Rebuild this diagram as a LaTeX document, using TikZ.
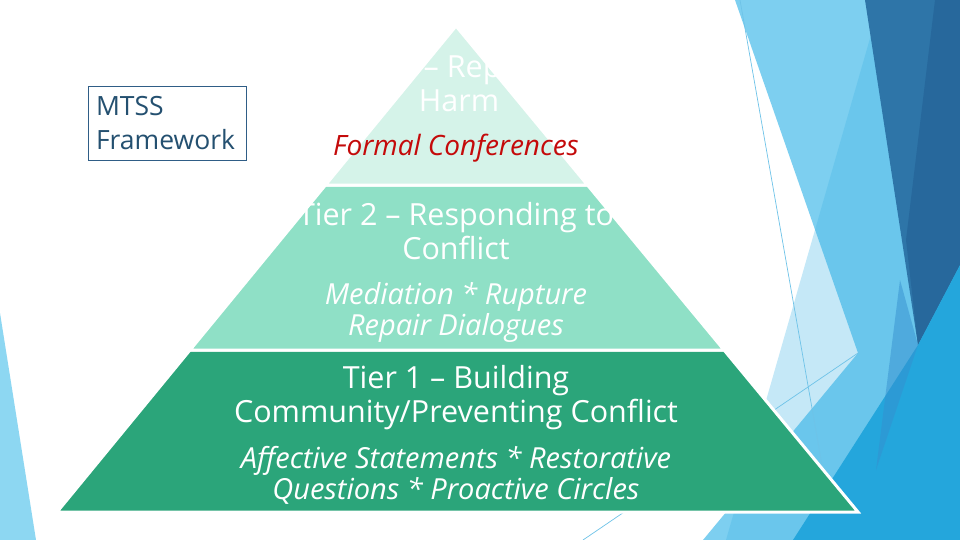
\documentclass[tikz,border=0pt]{standalone}
\usepackage{fontspec}
\setmainfont{Open Sans}
\definecolor{tierthree}{RGB}{213,243,233}
\definecolor{tiertwo}{RGB}{143,224,198}
\definecolor{tierone}{RGB}{43,165,122}
\definecolor{redtxt}{RGB}{196,10,10}
\definecolor{navytxt}{RGB}{36,80,112}
\definecolor{boxline}{RGB}{47,93,134}
\definecolor{lightblue}{RGB}{125,207,240}
\definecolor{paleblue}{RGB}{63,180,230}
\definecolor{darkblue}{RGB}{46,117,168}
\definecolor{darkerblue}{RGB}{39,104,156}
\definecolor{brightblue}{RGB}{36,166,220}
\definecolor{midblue}{RGB}{53,144,207}
\definecolor{leftblue}{RGB}{141,215,242}
\definecolor{thinblue}{RGB}{110,195,232}
\tikzset{
  tier/.style={draw=white, line width=3pt, line join=miter},
  headtxt/.style={text=white, align=center, font=\fontsize{30.5}{34}\selectfont, inner sep=0pt},
  italtxt/.style={align=center, font=\fontsize{29}{31}\itshape\selectfont, inner sep=0pt},
  thinline/.style={draw=thinblue, line width=0.7pt}
}
\begin{document}
\begin{tikzpicture}[x=1pt,y=-1pt]
\useasboundingbox (0,0) rectangle (960,540);
\fill[white] (0,0) rectangle (960,540);
% background facets
\fill[lightblue] (735,0) -- (960,0) -- (960,540) -- (703,540) -- (858,353) -- cycle;
\fill[paleblue, fill opacity=0.3] (881,0) -- (960,0) -- (960,540) -- (726,540) -- cycle;
\fill[darkblue] (865,0) -- (960,0) -- (960,265) -- (918,345) -- cycle;
\fill[darkerblue] (935,0) -- (960,0) -- (960,265) -- (918,345) -- (906,240) -- cycle;
\fill[brightblue] (918,345) -- (960,265) -- (960,540) -- (793,540) -- cycle;
\fill[midblue, fill opacity=0.5] (900,280) -- (918,345) -- (876,470) -- cycle;
\fill[leftblue] (0,313) -- (36,540) -- (0,540) -- cycle;
\coordinate (l2a) at (740,0);
\coordinate (l2b) at (822,465);
\coordinate (l3a) at (583,540);
\coordinate (l3b) at (858,353);
\draw[thinline] (l2a) -- (l2b);
\draw[thinline] (l3a) -- (l3b);
% pyramid
\filldraw[tier, fill=tierone] (190,350) -- (724,350) -- (858,512) -- (57,512) -- cycle;
\filldraw[tier, fill=tiertwo] (325.5,185) -- (587.5,185) -- (724,350) -- (190,350) -- cycle;
\filldraw[tier, fill=tierthree] (456,26) -- (587.5,185) -- (325.5,185) -- cycle;
% texts
\node[headtxt] (t3head) at (459,83.5) {Tier 3 – Repairing\\Harm};
\node[italtxt, text=redtxt, font=\fontsize{28}{31}\itshape\selectfont] (t3ital) at (456,148) {Formal Conferences};
\node[headtxt] (t2head) at (456,231.5) {Tier 2 – Responding to\\Conflict};
\node[italtxt, text=white] (t2ital) at (456,312) {Mediation * Rupture\\Repair Dialogues};
\node[headtxt] (t1head) at (456,397.5) {Tier 1 – Building\\Community/Preventing Conflict};
\node[italtxt, text=white] (t1ital) at (456,475) {Affective Statements * Restorative\\Questions * Proactive Circles};
\node[draw=boxline, line width=0.8pt, text=navytxt, align=left, text width=142pt, inner xsep=8pt, inner ysep=0pt, minimum height=74pt, font=\fontsize{26.5}{34}\selectfont] (mtss) at (167,123) {MTSS\\Framework};
\end{tikzpicture}
\end{document}
